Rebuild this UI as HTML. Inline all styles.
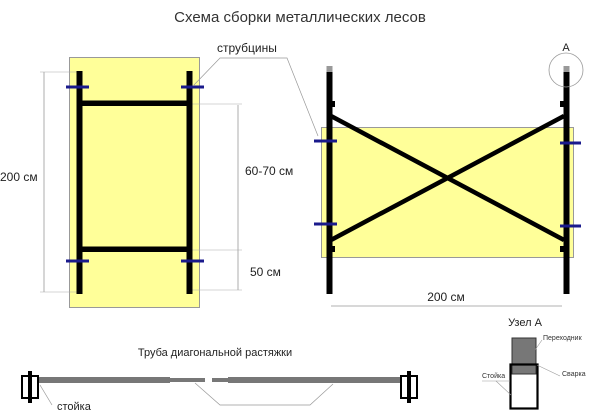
<!DOCTYPE html>
<html><head><meta charset="utf-8"><style>
html,body{margin:0;padding:0;background:#fff;}
svg{display:block;font-family:"Liberation Sans",sans-serif;}
</style></head><body>
<svg width="600" height="411" viewBox="0 0 600 411">
<text x="300" y="22" font-size="15" text-anchor="middle" fill="#333">Схема сборки металлических лесов</text>
<!-- left frame -->
<rect x="69.5" y="57.5" width="130" height="250" fill="#ffff99" stroke="#999" stroke-width="1"/>
<line x1="44" y1="72" x2="44" y2="292" stroke="#999" stroke-width="0.8"/>
<line x1="40" y1="72" x2="80" y2="72" stroke="#aaa" stroke-width="0.6"/>
<line x1="40" y1="292" x2="80" y2="292" stroke="#aaa" stroke-width="0.6"/>
<text x="0" y="181" font-size="12" fill="#222">200 см</text>
<line x1="238" y1="105" x2="238" y2="290" stroke="#999" stroke-width="0.8"/>
<line x1="192" y1="104" x2="242" y2="104" stroke="#aaa" stroke-width="0.6"/>
<line x1="192" y1="250" x2="242" y2="250" stroke="#aaa" stroke-width="0.6"/>
<line x1="192" y1="290" x2="242" y2="290" stroke="#aaa" stroke-width="0.6"/>
<text x="245" y="175" font-size="12" fill="#222">60-70 см</text>
<text x="250" y="276" font-size="12" fill="#222">50 см</text>
<rect x="76.5" y="71" width="6" height="223" fill="#000"/>
<rect x="186.5" y="71" width="6" height="223" fill="#000"/>
<rect x="80" y="100.5" width="109" height="5.5" fill="#000"/>
<rect x="80" y="246.5" width="109" height="5.5" fill="#000"/>
<g stroke="#1a1a8c" stroke-width="3">
<line x1="66" y1="87" x2="89" y2="87"/><line x1="181" y1="87" x2="204" y2="87"/>
<line x1="66" y1="261" x2="89" y2="261"/><line x1="181" y1="261" x2="204" y2="261"/>
</g>
<text x="217" y="52" font-size="12" fill="#222">струбцины</text>
<polyline points="193,86 220,58 287,58 318,136" fill="none" stroke="#999" stroke-width="0.7"/>
<!-- right frame -->
<rect x="321.5" y="127.5" width="252" height="130" fill="#ffff99" stroke="#999" stroke-width="1"/>
<rect x="326.5" y="66" width="6" height="7" fill="#999"/>
<rect x="563.5" y="66" width="6" height="7" fill="#999"/>
<rect x="326.5" y="72" width="6" height="222" fill="#000"/>
<rect x="563.5" y="72" width="6" height="222" fill="#000"/>
<rect x="331" y="101" width="4" height="6" fill="#000"/><rect x="560" y="101" width="4" height="6" fill="#000"/>
<rect x="331" y="246" width="4" height="6" fill="#000"/><rect x="560" y="246" width="4" height="6" fill="#000"/>
<line x1="331" y1="116" x2="564" y2="240" stroke="#000" stroke-width="4.5"/>
<line x1="331" y1="240" x2="564" y2="116" stroke="#000" stroke-width="4.5"/>
<g stroke="#1a1a8c" stroke-width="3">
<line x1="314" y1="141" x2="337" y2="141"/><line x1="314" y1="224" x2="337" y2="224"/>
<line x1="560" y1="143" x2="581" y2="143"/><line x1="560" y1="226" x2="581" y2="226"/>
</g>
<circle cx="566" cy="70" r="17" fill="none" stroke="#999" stroke-width="0.8"/>
<text x="566" y="51" font-size="11" text-anchor="middle" fill="#222">A</text>
<line x1="331" y1="306" x2="562" y2="306" stroke="#999" stroke-width="0.8"/>
<text x="446" y="301" font-size="12" text-anchor="middle" fill="#222">200 см</text>
<!-- bottom pipe -->
<text x="215" y="356" font-size="11" text-anchor="middle" fill="#222">Труба диагональной растяжки</text>
<line x1="38" y1="380" x2="170" y2="380" stroke="#777" stroke-width="6"/>
<line x1="168" y1="380" x2="205" y2="380" stroke="#777" stroke-width="4"/>
<line x1="212" y1="380" x2="230" y2="380" stroke="#777" stroke-width="4"/>
<line x1="228" y1="380" x2="400" y2="380" stroke="#777" stroke-width="6"/>
<g fill="#fff" stroke="#000" stroke-width="2">
<rect x="22" y="376" width="16" height="22"/><rect x="401" y="376" width="16" height="22"/>
</g>
<rect x="28" y="371" width="4" height="32" fill="#000"/>
<rect x="407" y="371" width="4" height="32" fill="#000"/>
<text x="57" y="410" font-size="11" fill="#222">стойка</text>
<polyline points="40,385 52,405" fill="none" stroke="#999" stroke-width="0.7"/>
<polyline points="195,383 220,405 310,405 333,384" fill="none" stroke="#999" stroke-width="0.7"/>
<!-- node A -->
<text x="525" y="326" font-size="11" text-anchor="middle" fill="#222">Узел A</text>
<rect x="512" y="338" width="24" height="36" fill="#777" stroke="#333" stroke-width="1"/>
<rect x="510.5" y="364.5" width="27" height="44" fill="none" stroke="#000" stroke-width="2.2"/>
<text x="543" y="340" font-size="7" fill="#333">Переходник</text>
<line x1="535" y1="350" x2="542" y2="340" stroke="#999" stroke-width="0.6"/>
<text x="562" y="376" font-size="7" fill="#333">Сварка</text>
<line x1="537" y1="365" x2="560" y2="376" stroke="#999" stroke-width="0.6"/>
<text x="482" y="378" font-size="7" fill="#333">Стойка</text>
<line x1="482" y1="381" x2="510" y2="381" stroke="#999" stroke-width="0.6"/>
<line x1="496" y1="381" x2="511" y2="395" stroke="#999" stroke-width="0.6"/>
</svg>
</body></html>
